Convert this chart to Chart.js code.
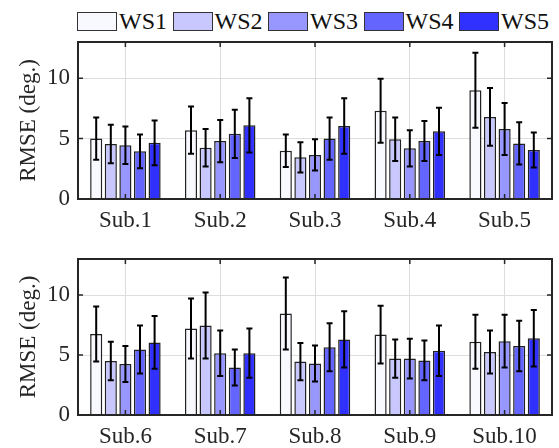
<!DOCTYPE html>
<html>
<head>
<meta charset="utf-8">
<script src="https://cdn.jsdelivr.net/npm/chart.js@4.4.0/dist/chart.umd.min.js"></script>
<style>
  body { margin: 0; background: #fff; width: 559px; height: 448px; position: relative; overflow: hidden; }
  canvas { position: absolute; left: 0; }
  #legend { position: absolute; left: 77px; top: 12px; display: flex; font-family: 'Liberation Serif', 'Times New Roman', serif; font-size: 24px; color: #111; }
  .item { display: flex; align-items: center; height: 19px; margin-right: 5.5px; }
  .box { width: 40px; height: 19px; box-sizing: border-box; border: 1px solid #333; margin-right: 2px; }
</style>
</head>
<body>
<div id="legend"></div>
<canvas id="top" width="559" height="230" style="top:0"></canvas>
<canvas id="bottom" width="559" height="218" style="top:230px"></canvas>
<script>
// subjects and per-condition RMSE (mean, std), Sub.1 .. Sub.10
const subjects = ['Sub.1', 'Sub.2', 'Sub.3', 'Sub.4', 'Sub.5', 'Sub.6', 'Sub.7', 'Sub.8', 'Sub.9', 'Sub.10'];
const seriesNames = ['WS1', 'WS2', 'WS3', 'WS4', 'WS5'];

const ws1Mean = [5.0, 5.7, 4.0, 7.3, 9.0, 6.75, 7.2, 8.45, 6.7, 6.1];
const ws1Std  = [1.75, 1.95, 1.35, 2.65, 3.1, 2.3, 2.5, 3.0, 2.4, 2.25];
const ws2Mean = [4.55, 4.25, 3.45, 4.95, 6.8, 4.5, 7.45, 4.45, 4.7, 5.25];
const ws2Std  = [1.6, 1.55, 1.25, 1.8, 2.4, 1.6, 2.75, 1.55, 1.6, 1.8];
const ws3Mean = [4.45, 4.8, 3.65, 4.2, 5.8, 4.25, 5.15, 4.3, 4.7, 6.15];
const ws3Std  = [1.55, 1.75, 1.3, 1.5, 2.15, 1.5, 1.9, 1.5, 1.65, 2.2];
const ws4Mean = [3.95, 5.4, 5.0, 4.8, 4.6, 5.45, 3.95, 5.65, 4.55, 5.75];
const ws4Std  = [1.4, 2.0, 1.75, 1.65, 1.75, 2.0, 1.5, 2.0, 1.65, 2.1];
const ws5Mean = [4.65, 6.1, 6.05, 5.6, 4.05, 6.05, 5.15, 6.3, 5.35, 6.4];
const ws5Std  = [1.85, 2.25, 2.3, 1.95, 1.45, 2.2, 2.05, 2.35, 2.1, 2.35];

const yTicks = [0, 5, 10];
const yMax = 13;

const means = [ws1Mean, ws2Mean, ws3Mean, ws4Mean, ws5Mean];
const stds = [ws1Std, ws2Std, ws3Std, ws4Std, ws5Std];
const colors = ['#f8f8ff', '#c8c8ff', '#9797ff', '#6464ff', '#3131ff'];

const FONT = "'Liberation Serif', 'Times New Roman', serif";
const INK = '#262626';

// legend as html, built from the series names
const legend = document.getElementById('legend');
seriesNames.forEach((name, i) => {
    const item = document.createElement('div');
    item.className = 'item';
    item.innerHTML = '<span class="box" style="background:' + colors[i] + '"></span><span>' + name + '</span>';
    legend.appendChild(item);
});

const errorBars = {
    id: 'errorBars',
    afterDatasetsDraw(chart) {
        const { ctx } = chart;
        const y = chart.scales.y;
        ctx.save();
        ctx.strokeStyle = '#000';
        ctx.lineWidth = 2;
        chart.data.datasets.forEach((ds, di) => {
            const meta = chart.getDatasetMeta(di);
            meta.data.forEach((bar, i) => {
                const v = ds.data[i], e = ds.errors[i];
                const y1 = y.getPixelForValue(v + e), y2 = y.getPixelForValue(v - e);
                ctx.beginPath();
                ctx.moveTo(bar.x, y1); ctx.lineTo(bar.x, y2);
                ctx.moveTo(bar.x - 3, y1); ctx.lineTo(bar.x + 3, y1);
                ctx.moveTo(bar.x - 3, y2); ctx.lineTo(bar.x + 3, y2);
                ctx.stroke();
            });
        });
        ctx.restore();
    }
};

// matlab style box with inward ticks
const boxFrame = {
    id: 'boxFrame',
    afterDatasetsDraw(chart) {
        const { ctx, chartArea: a } = chart;
        const { x, y } = chart.scales;
        ctx.save();
        ctx.strokeStyle = INK;
        ctx.lineWidth = 1.5;
        ctx.beginPath();
        x.ticks.forEach((t, i) => {
            const px = x.getPixelForTick(i);
            ctx.moveTo(px, a.top); ctx.lineTo(px, a.top + 5);
            ctx.moveTo(px, a.bottom); ctx.lineTo(px, a.bottom - 5);
        });
        y.ticks.forEach((t, i) => {
            const py = y.getPixelForTick(i);
            ctx.moveTo(a.left, py); ctx.lineTo(a.left + 5, py);
            ctx.moveTo(a.right, py); ctx.lineTo(a.right - 5, py);
        });
        ctx.stroke();
        ctx.lineWidth = 2;
        ctx.strokeRect(a.left, a.top, a.right - a.left, a.bottom - a.top);
        ctx.restore();
    }
};

function makeChart(id, from, to, padTop, xHeight) {
    const datasets = seriesNames.map((name, i) => ({
        label: name,
        data: means[i].slice(from, to),
        errors: stds[i].slice(from, to),
        backgroundColor: colors[i],
        borderColor: '#222',
        borderWidth: 1.5,
        categoryPercentage: 0.77,
        barPercentage: 0.83
    }));

    return new Chart(document.getElementById(id).getContext('2d'), {
        type: 'bar',
        data: { labels: subjects.slice(from, to), datasets },
        options: {
            responsive: false,
            animation: false,
            layout: { padding: { top: padTop, right: 7, left: 0, bottom: 0 } },
            plugins: { legend: { display: false }, tooltip: { enabled: false } },
            scales: {
                x: {
                    offset: true,
                    grid: { offset: false, color: '#dddddd', drawTicks: false },
                    border: { display: false },
                    ticks: { color: INK, padding: 8, font: { family: FONT, size: 23 } },
                    afterFit: (s) => { s.height = xHeight; }
                },
                y: {
                    min: 0,
                    max: yMax,
                    grid: { color: '#dddddd', drawTicks: false },
                    border: { display: false },
                    afterBuildTicks: (s) => { s.ticks = yTicks.map(v => ({ value: v })); },
                    ticks: { color: INK, padding: 8, font: { family: FONT, size: 23 } },
                    title: { display: true, text: 'RMSE (deg.)', color: INK, padding: { top: 15, bottom: 0 }, font: { family: FONT, size: 23 } },
                    afterFit: (s) => { s.width = 78; }
                }
            }
        },
        plugins: [errorBars, boxFrame]
    });
}

makeChart('top', 0, 5, 42, 31);
makeChart('bottom', 5, 10, 29, 33);
</script>
</body>
</html>
